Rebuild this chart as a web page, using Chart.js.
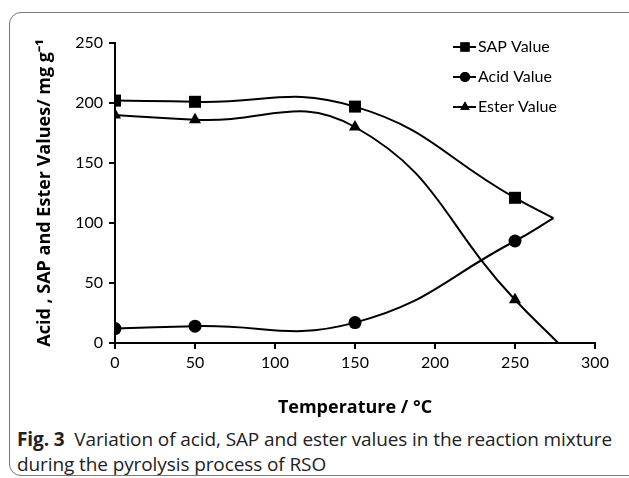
<!DOCTYPE html>
<html>
<head>
<meta charset="utf-8">
<script src="https://cdn.jsdelivr.net/npm/chart.js@4.4.1/dist/chart.umd.min.js"></script>
<style>
  html, body { margin: 0; padding: 0; background: #fff; }
  body { width: 629px; height: 478px; position: relative; overflow: hidden; }
  #frame { position: absolute; left: 9px; top: 12px; width: 640px; height: 464px;
           border: 1px solid #777; border-radius: 12px; box-sizing: border-box; }
  #wrap { position: absolute; left: 0; top: 0; width: 629px; height: 421px; }
  #cap { position: absolute; left: 17px; top: 427px; font-family: "Open Sans", sans-serif;
         font-size: 19px; line-height: 25px; color: #222; white-space: nowrap; letter-spacing: -0.1px; }
  #cap b { font-weight: 700; }
</style>
</head>
<body>
<div id="frame"></div>
<div id="wrap"><canvas id="c" width="629" height="421"></canvas></div>
<div id="cap"><b>Fig. 3</b>&nbsp; Variation of acid, SAP and ester values in the reaction mixture<br>during the pyrolysis process of RSO</div>
<script>
// Data
const temperatures = [0, 50, 150, 250];
const sapValues   = [202, 201, 197, 121];
const acidValues  = [12, 14, 17, 85];
const esterValues = [190, 186, 180, 36];
// extra end points of the curves (no marker)
const sapEnd   = [274, 104];
const acidEnd  = [274, 104];
const esterEnd = [277, 0];
const xTicks = [0, 50, 100, 150, 200, 250, 300];
const yTicks = [0, 50, 100, 150, 200, 250];
const seriesNames = ['SAP Value', 'Acid Value', 'Ester Value'];

function pts(vals, end) {
  const p = temperatures.map((t, i) => ({ x: t, y: vals[i] }));
  p.push({ x: end[0], y: end[1] });
  return p;
}
function radii(n, r) { const a = new Array(n).fill(r); a.push(0); return a; }

const styles = [
  { pointStyle: 'rect', r: 8.5 },
  { pointStyle: 'circle', r: 6.5 },
  { pointStyle: 'triangle', r: 7 }
];

const datasets = [
  { label: seriesNames[0], data: pts(sapValues, sapEnd) },
  { label: seriesNames[1], data: pts(acidValues, acidEnd) },
  { label: seriesNames[2], data: pts(esterValues, esterEnd) }
].map((d, i) => Object.assign(d, {
  borderColor: '#000', backgroundColor: '#000', borderWidth: 2,
  pointStyle: styles[i].pointStyle,
  pointRadius: radii(temperatures.length, styles[i].r),
  pointHoverRadius: radii(temperatures.length, styles[i].r),
  pointBorderWidth: 0,
  tension: 0.45, fill: false
}));

const legendPlugin = {
  id: 'customLegend',
  afterDatasetsDraw(chart) {
    const ctx = chart.ctx;
    ctx.save();
    chart.data.datasets.forEach((ds, i) => {
      const y = 47 + i * 30;
      ctx.strokeStyle = '#000'; ctx.lineWidth = 2;
      ctx.beginPath(); ctx.moveTo(453, y); ctx.lineTo(476, y); ctx.stroke();
      ctx.fillStyle = '#000';
      Chart.helpers.drawPoint(ctx, { pointStyle: ds.pointStyle, radius: i === 0 ? 6.5 : (i === 1 ? 5 : 5.5), borderWidth: 0 }, 465, y);
      ctx.fill();
      ctx.font = '16px Lato, "Open Sans", sans-serif';
      ctx.textBaseline = 'middle'; ctx.textAlign = 'left';
      ctx.fillText(ds.label, 478, y);
    });
    ctx.restore();
  }
};

new Chart(document.getElementById('c'), {
  type: 'line',
  data: { datasets },
  plugins: [legendPlugin],
  options: {
    responsive: false, animation: false,
    layout: { padding: { left: 30, top: 43, right: 34, bottom: 0 } },
    plugins: { legend: { display: false }, tooltip: { enabled: false } },
    scales: {
      x: {
        type: 'linear', min: 0, max: 300,
        afterBuildTicks: s => { s.ticks = xTicks.map(v => ({ value: v })); },
        afterFit: s => { s.height = 78; },
        border: { display: true, color: '#000', width: 2 },
        grid: { display: true, drawOnChartArea: false, drawTicks: true, tickLength: 6, color: '#000', lineWidth: 2 },
        ticks: { color: '#000', font: { family: 'Lato, sans-serif', size: 16 }, padding: 4, maxRotation: 0 },
        title: { display: true, text: 'Temperature / °C', color: '#000',
                 font: { family: '"Open Sans", sans-serif', size: 18, weight: 'bold' }, padding: { top: 4, bottom: 2 } }
      },
      y: {
        type: 'linear', min: 0, max: 250,
        afterBuildTicks: s => { s.ticks = yTicks.map(v => ({ value: v })); },
        afterFit: s => { s.width = 85; },
        border: { display: true, color: '#000', width: 2 },
        grid: { display: true, drawOnChartArea: false, drawTicks: true, tickLength: 6, color: '#000', lineWidth: 2 },
        ticks: { color: '#000', font: { family: 'Lato, sans-serif', size: 16 }, padding: 6 },
        title: { display: true, text: 'Acid , SAP and Ester Values/ mg g⁻¹', color: '#000',
                 font: { family: '"Open Sans", sans-serif', size: 18, weight: 'bold' }, padding: { top: 4, bottom: 4 } }
      }
    }
  }
});
</script>
</body>
</html>
